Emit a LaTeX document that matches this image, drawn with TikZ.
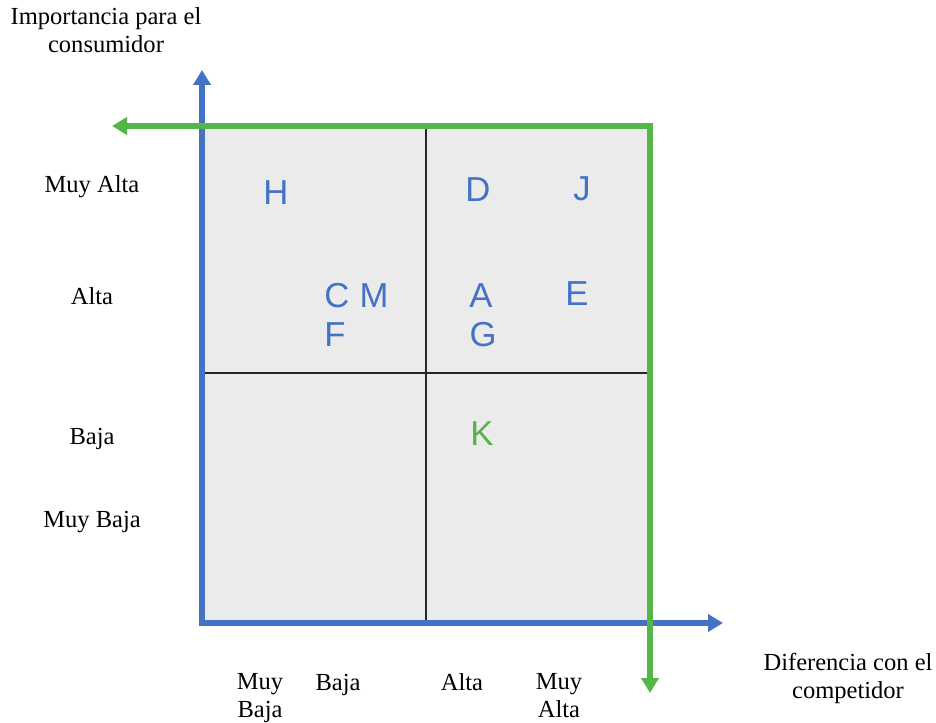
\documentclass[tikz,border=0pt]{standalone}
\usepackage{fontspec}
\setmainfont{Liberation Serif}
\newfontfamily\lettersans{Liberation Sans}
\usetikzlibrary{arrows.meta}
\definecolor{axisblue}{RGB}{68,114,196}
\definecolor{axisgreen}{RGB}{84,181,72}
\definecolor{quadgray}{RGB}{235,235,235}
\begin{document}
\begin{tikzpicture}[x=0.75pt,y=-0.75pt,
  lbl/.style={font=\fontsize{18.4}{21}\selectfont, align=center, inner sep=0pt, text=black},
  itm/.style={font=\lettersans\fontsize{26}{28}\selectfont, text=axisblue, inner sep=0pt},
  itmg/.style={itm, text=axisgreen},
  blueaxis/.style={draw=axisblue, line width=4pt, {Triangle[length=11.25pt,width=12.75pt]}-{Triangle[length=11.25pt,width=12.75pt]}},
  greenaxis/.style={draw=axisgreen, line width=4pt, {Triangle[length=11.25pt,width=12.75pt]}-{Triangle[length=11.25pt,width=12.75pt]}},
  divider/.style={draw=black!85, line width=0.8pt}]
\useasboundingbox (0,0) rectangle (936,723);
% quadrant area
\fill[quadgray] (202,126) rectangle (650,623);
\coordinate (mt) at (426,126);
\coordinate (mb) at (426,623);
\coordinate (ml) at (202,373);
\coordinate (mr) at (650,373);
\draw[divider] (mt) -- (mb);
\draw[divider] (ml) -- (mr);
% blue axes
\coordinate (btop) at (202,70);
\coordinate (borigin) at (202,623);
\coordinate (bright) at (723,623);
\draw[blueaxis] (btop) -- (borigin) -- (bright);
% green axes
\coordinate (gdown) at (650,693);
\coordinate (gcorner) at (650,126);
\coordinate (gleft) at (112,126);
\draw[greenaxis] (gdown) -- (gcorner) -- (gleft);
% axis titles
\node[lbl] (ytitle) at (106,30) {Importancia para el\\consumidor};
\node[lbl] (xtitle) at (848,678) {Diferencia con el\\competidor};
% y labels
\node[lbl] (ymuyalta) at (92,187) {Muy Alta};
\node[lbl] (yalta) at (92,296) {Alta};
\node[lbl] (ybaja) at (92,439) {Baja};
\node[lbl] (ymuybaja) at (92,522) {Muy Baja};
% x labels
\node[lbl] (xmuybaja) at (260,698) {Muy\\Baja};
\node[lbl] (xbaja) at (338,685) {Baja};
\node[lbl] (xalta) at (462,682) {Alta};
\node[lbl] (xmuyalta) at (559,696) {Muy\\Alta};
% items
\node[itm] (H) at (276,193) {H};
\node[itm] (D) at (478,190) {D};
\node[itm] (J) at (582,189) {J};
\node[itm] (C) at (337,296) {C};
\node[itm] (M) at (374,296) {M};
\node[itm] (F) at (335,335) {F};
\node[itm] (A) at (481,296) {A};
\node[itm] (E) at (577,294) {E};
\node[itm] (G) at (483,335) {G};
\node[itmg] (K) at (482,434) {K};
\end{tikzpicture}
\end{document}
